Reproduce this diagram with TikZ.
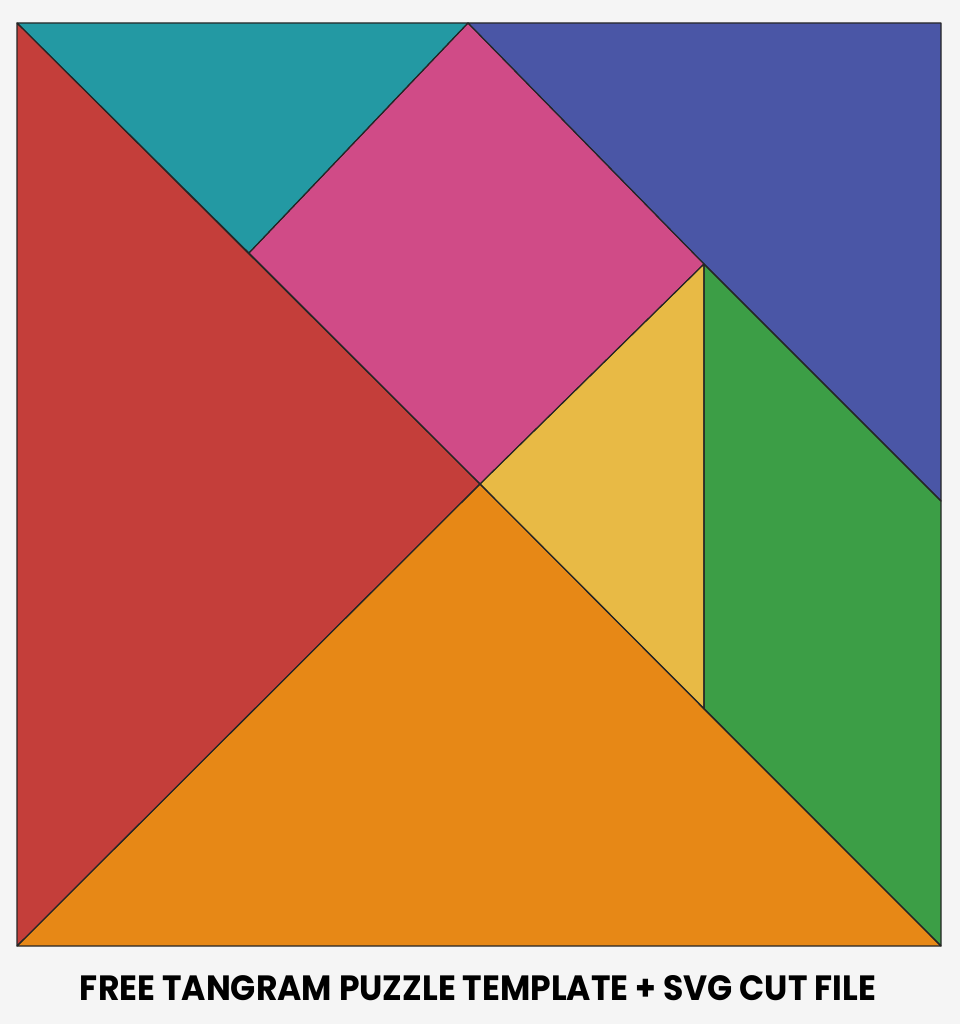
\documentclass[tikz,border=0pt]{standalone}
\usepackage{fontspec}
\newfontfamily\popfont{Poppins}
\definecolor{bgc}{HTML}{F5F5F5}
\definecolor{tred}{HTML}{C43E3A}
\definecolor{tteal}{HTML}{2399A3}
\definecolor{tpink}{HTML}{D04B87}
\definecolor{tblue}{HTML}{4A56A6}
\definecolor{tgreen}{HTML}{3C9E46}
\definecolor{tyellow}{HTML}{E8BA45}
\definecolor{torange}{HTML}{E78816}
\tikzset{piece/.style={draw=black!85, line width=1.1pt, line join=round}}
\begin{document}
\begin{tikzpicture}[x=1pt,y=-1pt]
\fill[bgc] (0,0) rectangle (960,1024);
\useasboundingbox (0,0) rectangle (960,1024);
\coordinate (TL) at (17,23);
\coordinate (TR) at (941,23);
\coordinate (BR) at (941,946);
\coordinate (BL) at (17,946);
\coordinate (T) at (468,23);
\coordinate (Q) at (249,253);
\coordinate (C) at (480,484);
\coordinate (R) at (704,264);
\coordinate (G) at (941,501);
\coordinate (H) at (704,709);
\fill[tred] (TL) -- (C) -- (BL) -- cycle;
\fill[torange] (BL) -- (C) -- (BR) -- cycle;
\fill[tteal] (TL) -- (T) -- (Q) -- cycle;
\fill[tpink] (T) -- (R) -- (C) -- (Q) -- cycle;
\fill[tblue] (T) -- (TR) -- (G) -- (R) -- cycle;
\fill[tyellow] (R) -- (H) -- (C) -- cycle;
\fill[tgreen] (R) -- (G) -- (BR) -- (H) -- cycle;
\draw[piece] (TL) -- (C) -- (BL) -- cycle;
\draw[piece] (BL) -- (C) -- (BR) -- cycle;
\draw[piece] (TL) -- (T) -- (Q) -- cycle;
\draw[piece] (T) -- (R) -- (C) -- (Q) -- cycle;
\draw[piece] (T) -- (TR) -- (G) -- (R) -- cycle;
\draw[piece] (R) -- (H) -- (C) -- cycle;
\draw[piece] (R) -- (G) -- (BR) -- (H) -- cycle;
\node[inner sep=0pt] (title) at (478,988) {\resizebox{796pt}{25pt}{\popfont\bfseries FREE TANGRAM PUZZLE TEMPLATE + SVG CUT FILE}};
\end{tikzpicture}
\end{document}
